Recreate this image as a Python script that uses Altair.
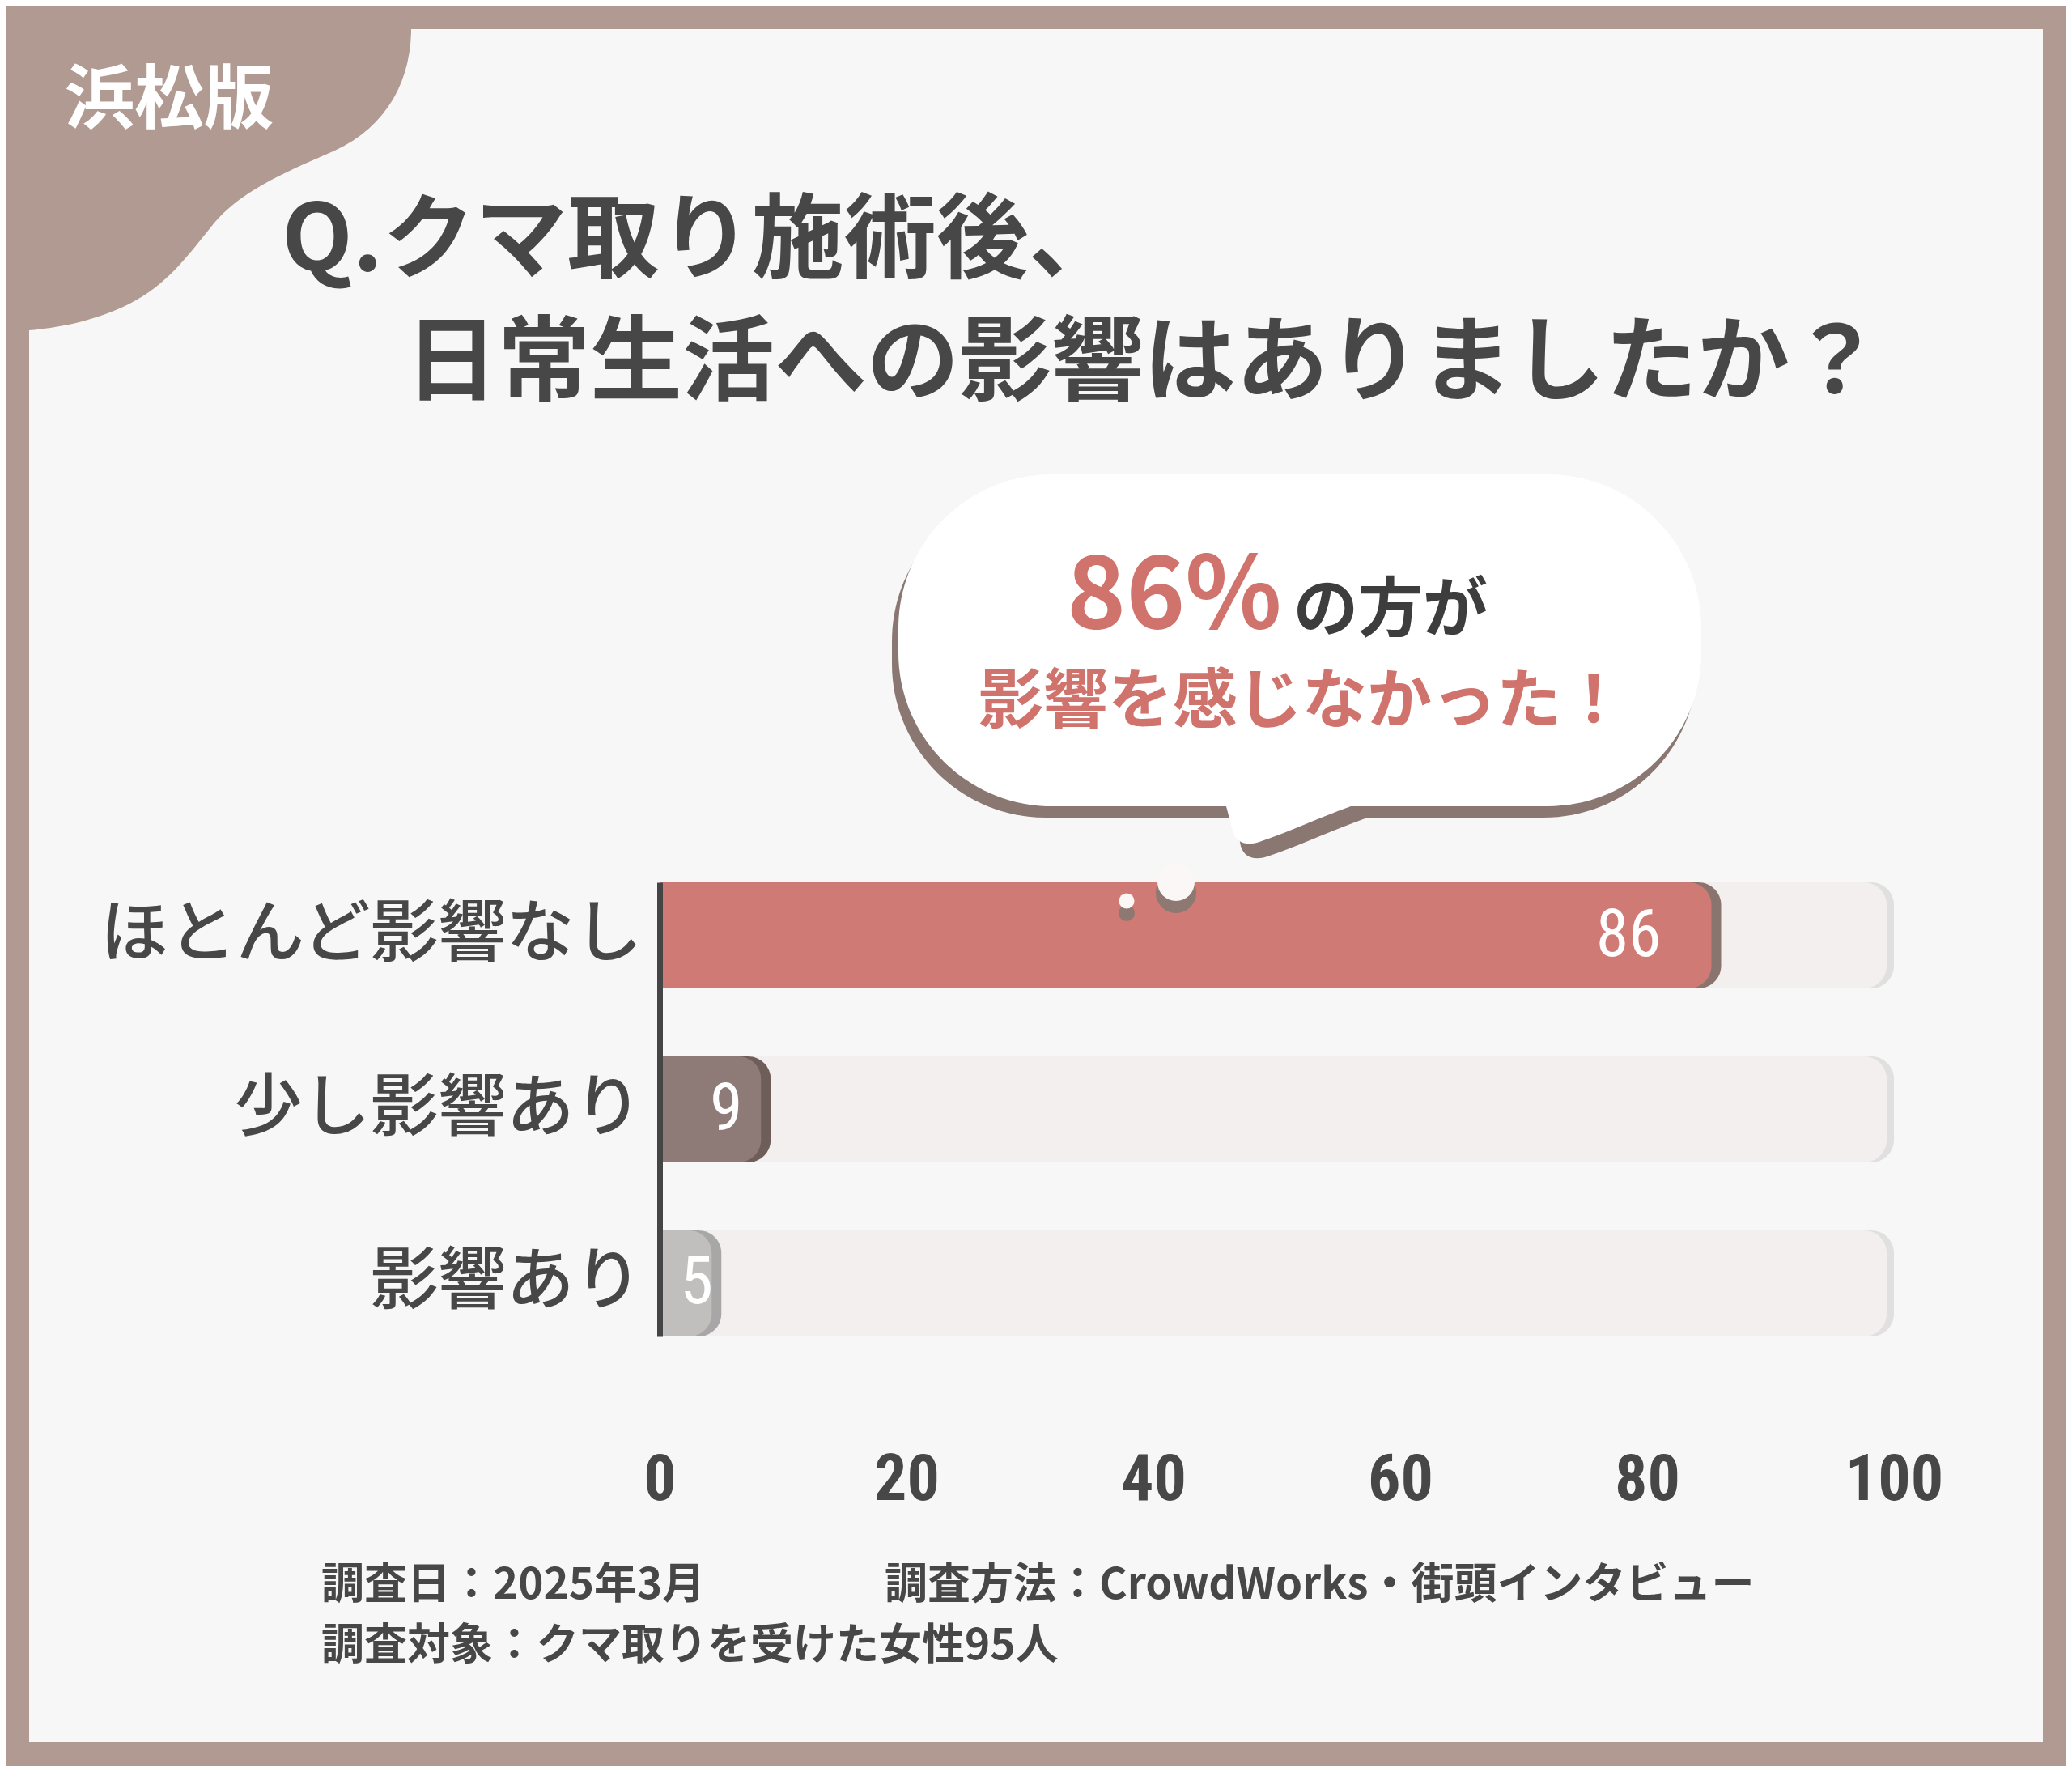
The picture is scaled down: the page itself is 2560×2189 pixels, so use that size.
import altair as alt
import pandas as pd

# ---------------- data ----------------
categories = ["ほとんど影響なし", "少し影響あり", "影響あり"]
values = [86, 9, 5]
track_max = [100, 100, 100]
tick_values = [0, 20, 40, 60, 80, 100]

title_lines = ["Q.クマ取り施術後、", "日常生活への影響はありましたか？"]
badge_text = "浜松版"
callout_big = "86%"
callout_small = "の方が"
callout_line2 = "影響を感じなかった！"
footer_date = "調査日：2025年3月"
footer_method = "調査方法：CrowdWorks・街頭インタビュー"
footer_target = "調査対象：クマ取りを受けた女性95人"

# ---------------- styles ----------------
bar_colors = ["#cf7a74", "#8e7b78", "#c1bfbe"]
edge_colors = ["#8a746e", "#6f5d5a", "#a8a7a7"]
FRAME = "#b19a92"
PANEL = "#f7f7f7"
DARK = "#474747"
SALMON = "#d0736d"
JP = "Noto Sans CJK JP"
NARROW = "Roboto Condensed, Liberation Sans Narrow, DejaVu Sans Condensed, Roboto, sans-serif"

# plot origin (page pixels) -> plot coordinates
OX, OY = 815, 1090
PW, PH = 1525, 561


def px(x):
    return x - OX


def py(y):
    return y - OY


one = alt.Data(values=[{"k": 0}])


def rect(x1, y1, x2, y2, color, r=None):
    kw = dict(color=color)
    if r:
        kw["cornerRadius"] = r
    return alt.Chart(one).mark_rect(**kw).encode(
        x=alt.value(px(x1)), x2=alt.value(px(x2)),
        y=alt.value(py(y1)), y2=alt.value(py(y2)))


def text(s, x, y, size, color, align="left", baseline="middle", weight="bold", font=JP):
    return alt.Chart(one).mark_text(
        text=s, align=align, baseline=baseline, fontSize=size,
        fontWeight=weight, font=font, color=color
    ).encode(x=alt.value(px(x)), y=alt.value(py(y)))


def norm_path(cmds, cx, cy, half):
    out = []
    for c, pts in cmds:
        coords = []
        for i in range(0, len(pts), 2):
            coords.append(f"{(pts[i] - cx) / half:.4f},{(pts[i + 1] - cy) / half:.4f}")
        out.append(c + " ".join(coords))
    return " ".join(out) + " Z"


def shape(cmds, cx, cy, half, color, dx=0, dy=0):
    path = norm_path(cmds, cx, cy, half)
    return alt.Chart(one).mark_point(
        shape=path, filled=True, fill=color, opacity=1, strokeWidth=0,
        size=(2 * half) ** 2
    ).encode(x=alt.value(px(cx + dx)), y=alt.value(py(cy + dy)))


def dot(x, y, d, color):
    return alt.Chart(one).mark_point(
        shape="circle", filled=True, fill=color, opacity=1, strokeWidth=0, size=d * d
    ).encode(x=alt.value(px(x)), y=alt.value(py(y)))


# ---------------- decoration ----------------
panel = rect(36, 36, 2524, 2152, PANEL)

blob_cmds = [
    ("M", [0, 0]), ("L", [508, 0]), ("L", [508, 40]),
    ("C", [506, 110, 470, 165, 400, 192]),
    ("C", [340, 218, 295, 240, 265, 275]),
    ("C", [230, 318, 205, 355, 150, 380]),
    ("C", [110, 398, 70, 405, 36, 408]),
    ("L", [0, 410]),
]
blob = shape(blob_cmds, 270, 215, 280, FRAME)
badge = text(badge_text, 209, 126, 86, "#ffffff", align="center")

title1 = text(title_lines[0], 348, 300, 114, DARK)
title2 = text(title_lines[1], 501, 451, 114, DARK)

bubble_shadow = rect(1102, 602, 2097, 1010, "#8b7771", r=190)
tail_cmds = [
    ("M", [1512, 985]), ("L", [1522, 1022]),
    ("C", [1524, 1040, 1538, 1046, 1556, 1040]),
    ("C", [1600, 1025, 1640, 1005, 1700, 985]),
]
tail_shadow = shape(tail_cmds, 1600, 1010, 110, "#8b7771", dx=10, dy=18)
bubble = rect(1110, 586, 2102, 996, "#ffffff", r=190)
tail = shape(tail_cmds, 1600, 1010, 110, "#ffffff")

big = text(callout_big, 1318, 776, 124, SALMON, baseline="alphabetic")
small = text(callout_small, 1598, 779, 80, "#3d3d3d", baseline="alphabetic")
line2 = text(callout_line2, 1609, 868, 80, SALMON, align="center")

footer1 = text(footer_date, 397, 1959, 53, DARK)
footer2 = text(footer_method, 1093, 1959, 53, DARK)
footer3 = text(footer_target, 397, 2034, 53, DARK)

# ---------------- bars ----------------
df = pd.DataFrame({"category": categories, "value": values, "full": track_max})
base = alt.Chart(df).transform_calculate(
    zero="0",
    label_pos="datum.value >= 20 ? datum.value - 7.5 : datum.value * 0.6",
)

x_scale = alt.Scale(domain=[0, 100], nice=False, zero=True)
y_scale = alt.Scale(domain=categories, paddingInner=0.39, paddingOuter=0)

x_axis = alt.Axis(values=tick_values, domain=False, ticks=False, grid=False,
                  labelFontSize=80, labelFont=NARROW, labelColor=DARK,
                  labelFontWeight="bold", labelPadding=138, labelFlush=False,
                  title=None, zindex=1)
y_axis = alt.Axis(domain=True, domainColor="#454545", domainWidth=7, ticks=False,
                  grid=False, labelFontSize=84, labelFont=JP, labelColor=DARK,
                  labelFontWeight=500, labelPadding=22, labelLimit=900,
                  title=None, zindex=1)

radius = dict(cornerRadiusTopRight=28, cornerRadiusBottomRight=28)
Y = alt.Y("category:N", sort=categories, scale=y_scale, axis=y_axis)
X0 = alt.X("zero:Q", scale=x_scale, axis=x_axis)

track_edge = base.mark_bar(color="#e1e0e0", **radius).encode(x=X0, x2="full:Q", y=Y)
track_main = base.mark_bar(color="#f3efee", x2Offset=-9, **radius).encode(x=X0, x2="full:Q", y=Y)
val_edge = base.mark_bar(**radius).encode(
    x=X0, x2="value:Q", y=Y,
    color=alt.Color("category:N", scale=alt.Scale(domain=categories, range=edge_colors), legend=None),
)
val_main = base.mark_bar(x2Offset=-12, **radius).encode(
    x=X0, x2="value:Q", y=Y,
    fill=alt.Fill("category:N", scale=alt.Scale(domain=categories, range=bar_colors), legend=None),
)
val_text = base.mark_text(align="center", baseline="middle", fontSize=82,
                          font=NARROW, color="#ffffff").encode(
    x=alt.X("label_pos:Q", scale=x_scale, axis=x_axis),
    y=Y,
    text="value:Q",
)

dots = [
    dot(1453, 1103, 50, "#8d7872"),
    dot(1453, 1090, 46, "#fbf7f6"),
    dot(1392, 1128, 20, "#8d7872"),
    dot(1392, 1113, 19, "#fbf7f6"),
]

chart = alt.layer(
    panel, blob, badge, title1, title2,
    bubble_shadow, tail_shadow, bubble, tail, big, small, line2,
    track_edge, track_main, val_edge, val_main, val_text,
    *dots,
    footer1, footer2, footer3,
).resolve_scale(color="independent", fill="independent").properties(
    width=PW, height=PH,
    autosize=alt.AutoSizeParams(type="none"),
    padding={"left": OX - 8, "top": OY - 8, "right": 2544 - (OX - 8) - PW, "bottom": 2173 - (OY - 8) - PH},
    background=FRAME,
).configure_view(stroke=None)

chart.save("out.html", embed_options={"renderer": "svg", "actions": False})
